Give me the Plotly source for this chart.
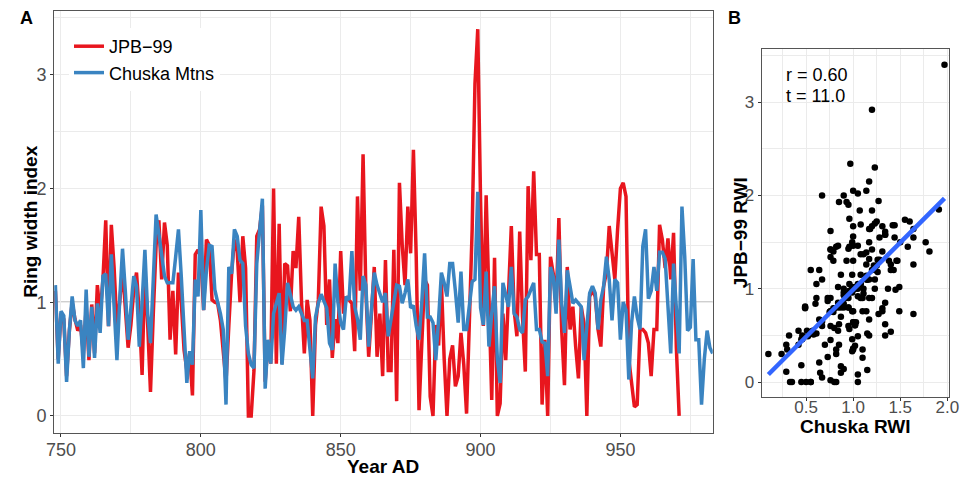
import numpy as np
import plotly.graph_objects as go

# ---------------- data ----------------
chuska_start = 748
chuska_rwi = [
    1.15, 0.46, 0.92, 0.88, 0.30, 0.75, 1.05, 0.84, 0.79, 0.84,   # 748-757
    0.42, 1.11, 0.52, 0.96, 0.51, 0.99, 0.73, 1.23, 1.25, 0.79,   # 758-767
    1.42, 1.00, 0.49, 1.02, 1.47, 1.10, 0.67, 0.95, 1.23, 1.14,   # 768-777
    0.61, 1.00, 1.46, 0.90, 0.64, 1.20, 1.77, 1.60, 1.40, 1.23,   # 778-787
    1.17, 1.17, 1.17, 1.40, 1.64, 1.23, 0.80, 0.29, 0.57, 0.45,   # 788-797
    1.20, 1.05, 1.81, 0.93, 1.28, 1.50, 1.49, 1.11, 1.00, 0.90,   # 798-807
    0.76, 0.10, 1.31, 1.25, 1.64, 1.58, 1.37, 1.34, 0.79, 0.55,   # 808-817
    0.45, 0.42, 1.34, 1.64, 1.91, 0.24, 0.67, 0.46, 0.90, 0.99,   # 818-827
    1.08, 0.45, 0.76, 1.17, 1.05, 0.96, 0.93, 0.96, 0.90, 0.84,   # 828-837
    0.84, 0.60, 0.33, 0.87, 0.99, 1.07, 1.00, 0.95, 0.64, 0.58,   # 838-847
    1.34, 1.00, 0.82, 0.76, 1.05, 1.02, 1.45, 0.96, 0.85, 0.67,   # 848-857
    1.23, 1.15, 0.61, 0.95, 1.26, 1.15, 1.08, 1.00, 1.08, 0.70,   # 858-867
    0.85, 1.00, 1.15, 1.14, 0.99, 1.08, 1.20, 0.95, 0.97, 0.79,   # 868-877
    0.67, 1.00, 1.43, 0.87, 0.87, 0.82, 0.49, 0.85, 1.26, 1.17,   # 878-887
    1.05, 1.34, 1.34, 1.10, 0.82, 1.27, 0.76, 0.76, 1.00, 1.18,   # 888-897
    1.20, 1.97, 0.95, 0.80, 1.27, 0.61, 0.90, 1.14, 0.50, 0.29,   # 898-907
    1.17, 1.05, 0.96, 1.31, 0.90, 0.87, 0.76, 0.73, 1.02, 1.05,   # 908-917
    1.11, 1.17, 0.76, 0.76, 0.65, 0.64, 0.35, 1.31, 1.22, 0.90,   # 918-927
    1.55, 0.99, 0.73, 1.28, 1.14, 0.99, 1.02, 0.99, 0.96, 0.49,   # 928-937
    0.80, 1.08, 1.14, 1.08, 0.76, 1.02, 1.14, 1.40, 1.20, 0.84,   # 938-947
    1.20, 1.17, 0.67, 1.00, 0.93, 0.32, 0.82, 1.05, 0.87, 0.76,   # 948-957
    1.49, 1.64, 1.03, 1.10, 1.31, 1.10, 1.44, 1.44, 1.38, 1.00,   # 958-967
    0.55, 1.34, 0.95, 0.55, 1.84, 1.40, 0.75, 0.78, 1.38, 0.67,   # 968-977
    0.67, 0.10, 0.50, 0.75, 0.60, 0.55,                           # 978-983
]

jpb_start = 748
jpb_rwi = [
    1.10, 0.50, 0.90, 0.85, 0.35, 0.75, 1.00, 0.85, 0.75, 0.80,   # 748-757
    0.55, 0.95, 0.49, 0.98, 0.55, 1.15, 0.90, 1.20, 1.72, 0.79,   # 758-767
    1.68, 1.30, 0.79, 1.00, 1.30, 0.90, 0.60, 0.80, 1.10, 1.26,   # 768-777
    0.90, 0.36, 1.30, 0.80, 0.21, 0.90, 1.50, 1.72, 1.20, 1.70,   # 778-787
    1.50, 0.67, 1.10, 0.54, 1.26, 1.00, 0.58, 0.40, 0.55, 0.18,   # 788-797
    1.42, 1.46, 1.40, 0.93, 1.55, 1.50, 1.02, 1.00, 0.99, 0.84,   # 798-807
    0.60, 0.30, 0.79, 1.25, 1.55, 1.45, 1.00, 1.58, 1.30, 0.00,   # 808-817
    0.00, 0.40, 1.58, 1.64, 1.85, 0.30, 0.65, 0.46, 2.00, 0.46,   # 818-827
    1.69, 0.46, 1.34, 1.32, 0.92, 1.45, 1.30, 1.75, 1.00, 0.55,   # 828-837
    1.02, 0.84, 0.00, 0.80, 1.02, 1.84, 1.67, 0.80, 1.20, 0.51,   # 838-847
    0.85, 0.64, 1.45, 0.90, 1.05, 1.02, 0.99, 0.57, 1.93, 1.10,   # 848-857
    2.30, 1.10, 0.52, 0.90, 1.31, 0.52, 0.90, 0.35, 1.37, 0.40,   # 858-867
    0.40, 1.46, 0.13, 2.05, 1.50, 1.15, 1.84, 1.43, 2.34, 1.40,   # 868-877
    0.05, 0.64, 1.20, 1.15, 0.17, 0.00, 0.80, 0.62, 1.18, 0.50,   # 878-887
    0.00, 0.50, 0.62, 0.26, 0.35, 0.73, 0.45, 0.02, 0.76, 1.64,   # 888-897
    2.92, 3.40, 1.90, 0.79, 1.94, 1.05, 0.14, 1.39, 0.00, 0.11,   # 898-907
    0.90, 0.49, 1.05, 1.67, 0.93, 0.70, 1.62, 0.87, 0.39, 2.02,   # 908-917
    1.37, 2.15, 1.42, 1.42, 0.10, 0.67, 0.00, 1.40, 1.25, 0.96,   # 918-927
    1.74, 0.76, 0.27, 1.31, 0.76, 0.96, 0.61, 0.33, 0.96, 0.81,   # 928-937
    0.00, 1.05, 1.10, 1.05, 0.76, 0.61, 1.14, 1.26, 1.67, 1.46,   # 938-947
    1.20, 1.64, 2.00, 2.05, 1.93, 0.50, 0.30, 0.08, 0.10, 0.76,   # 948-957
    0.76, 0.73, 0.64, 0.35, 0.76, 0.76, 1.68, 1.55, 1.30, 1.56,   # 958-967
    1.20, 1.61, 0.60, 0.00,                                       # 968-971
]

# regression line of panel B
fit_slope = 1.01
fit_intercept = -0.02

series_names = ["JPB\u221299", "Chuska Mtns"]
series_colors = ["#E8161E", "#3A84C1"]
x_ticks_a = [750, 800, 850, 900, 950]
y_ticks_a = [0, 1, 2, 3]
x_ticks_b = [0.5, 1.0, 1.5, 2.0]
x_ticklabels_b = ["0.5", "1.0", "1.5", "2.0"]
y_ticks_b = [0, 1, 2, 3]
stat_labels = ["r = 0.60", "t = 11.0"]

chuska_years = list(range(chuska_start, chuska_start + len(chuska_rwi)))
jpb_years = list(range(jpb_start, jpb_start + len(jpb_rwi)))

common = sorted(set(chuska_years) & set(jpb_years))
cx = np.array([chuska_rwi[y - chuska_start] for y in common])
jy = np.array([jpb_rwi[y - jpb_start] for y in common])
fit_x = np.array([cx.min(), cx.max()])
fit_y = fit_slope * fit_x + fit_intercept

# ---------------- geometry (page keeps an 8px body margin) ----------------
W, H, OFF = 962, 473, 8
def px_x(x):
    return (x - OFF) / W
def px_y(y):
    return 1 - (y - OFF) / H

FONT = "Liberation Sans, Arial, sans-serif"
TICK_COL = "#4d4d4d"
GRID = "#ebebeb"

fig = go.Figure()
fig.add_trace(go.Scatter(x=jpb_years, y=jpb_rwi, mode="lines", name=series_names[0],
                         line=dict(color=series_colors[0], width=3.5), xaxis="x", yaxis="y"))
fig.add_trace(go.Scatter(x=chuska_years, y=chuska_rwi, mode="lines", name=series_names[1],
                         line=dict(color=series_colors[1], width=3.5), xaxis="x", yaxis="y"))
fig.add_trace(go.Scatter(x=cx, y=jy, mode="markers", showlegend=False,
                         marker=dict(color="black", size=6.5), xaxis="x2", yaxis="y2"))
fig.add_trace(go.Scatter(x=fit_x, y=fit_y, mode="lines", showlegend=False,
                         line=dict(color="#3366FF", width=4.5), xaxis="x2", yaxis="y2"))

def axis_common(size):
    return dict(showline=True, mirror=True, linecolor="#555555", linewidth=1.3,
                ticks="outside", ticklen=3, tickcolor="#333333",
                tickfont=dict(family=FONT, size=size, color=TICK_COL),
                ticklabeloverflow="allow",
                showgrid=True, gridcolor=GRID, gridwidth=1.2, zeroline=False)

fig.update_layout(
    width=W, height=H,
    margin=dict(l=0, r=0, t=0, b=0),
    paper_bgcolor="white", plot_bgcolor="white",
    font=dict(family=FONT),
    xaxis=dict(domain=[px_x(47), px_x(718)], range=[747.6, 983.0], tickvals=x_ticks_a,
               minor=dict(dtick=25, tick0=750, showgrid=True, gridcolor=GRID, gridwidth=0.8, ticks=""),
               anchor="y", ticklabelstandoff=-3, **axis_common(18)),
    yaxis=dict(domain=[px_y(433), px_y(11)], range=[-0.15, 3.56], tickvals=y_ticks_a,
               minor=dict(dtick=0.5, tick0=0, showgrid=True, gridcolor=GRID, gridwidth=0.8, ticks=""),
               anchor="x", **axis_common(18)),
    xaxis2=dict(domain=[px_x(768), px_x(959)], range=[0.03, 2.02], tickvals=x_ticks_b,
                ticktext=x_ticklabels_b,
                minor=dict(dtick=0.25, tick0=0, showgrid=True, gridcolor=GRID, gridwidth=0.8, ticks=""),
                anchor="y2", ticklabelstandoff=-9, **axis_common(17)),
    yaxis2=dict(domain=[px_y(397), px_y(49)], range=[-0.16, 3.57], tickvals=y_ticks_b,
                minor=dict(dtick=0.5, tick0=0, showgrid=True, gridcolor=GRID, gridwidth=0.8, ticks=""),
                anchor="x2", **axis_common(17)),
    legend=dict(x=px_x(62), y=px_y(28), xanchor="left", yanchor="top", bgcolor="white",
                font=dict(family=FONT, size=18, color="black"), itemwidth=30,
                tracegroupgap=0),
    shapes=[dict(type="line", xref="x domain", yref="y", x0=0, x1=1, y0=1, y1=1,
                 line=dict(color="#a0a0a0", width=1.3), layer="below")],
)

ann = []
def txt(s, x, y, size=19, bold=True, angle=0, xa="center", ya="middle", color="black"):
    ann.append(dict(text=("<b>%s</b>" % s) if bold else s, x=px_x(x), y=px_y(y),
                    xref="paper", yref="paper",
                    showarrow=False, textangle=angle, xanchor=xa, yanchor=ya,
                    font=dict(family=FONT, size=size, color=color)))

txt("A", 10, 6, size=18, xa="left", ya="top")
txt("B", 732, 6, size=18, xa="left", ya="top")
txt("Ring width index", 22, 222, size=19, angle=-90)
txt("Year AD", 382, 466, size=19)
txt("Chuska RWI", 863, 426, size=19)
txt("JPB\u221299 RWI", 746, 233, size=19, angle=-90)
txt(stat_labels[0], 791, 75, size=18, bold=False, xa="left")
txt(stat_labels[1], 791, 96, size=18, bold=False, xa="left")
fig.update_layout(annotations=ann)

fig.write_html("out.html")
